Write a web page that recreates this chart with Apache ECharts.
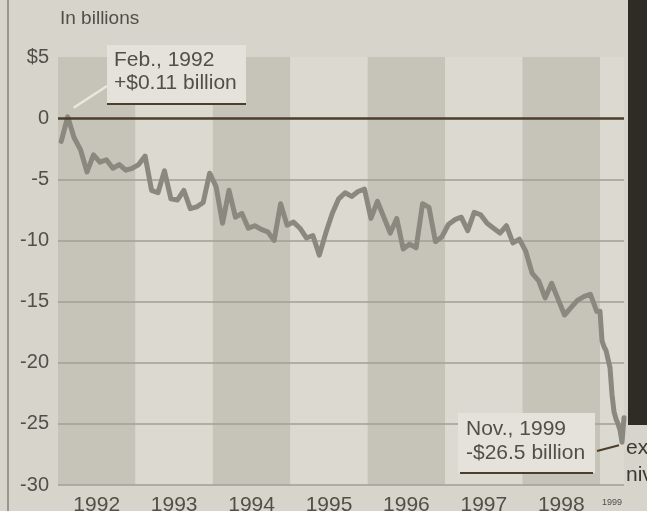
<!DOCTYPE html>
<html><head><meta charset="utf-8">
<script src="https://cdn.jsdelivr.net/npm/echarts@6/dist/echarts.min.js"></script>
<style>html,body{margin:0;padding:0;background:#d7d4cb;overflow:hidden}#c{width:647px;height:511px}</style>
</head><body><div id="c"></div><script>
// ---- data (US trade balance, billions of dollars, monthly) ----
const years = ['1992','1993','1994','1995','1996','1997','1998'];
const lastYear = ['1999'];
const monthNames = ['Jan','Feb','Mar','Apr','May','Jun','Jul','Aug','Sep','Oct','Nov','Dec'];
const yTickLabels = {5:'$5'};
const balance1992 = [-1.9, 0.11, -1.6, -2.6, -4.4, -3.0, -3.6, -3.4, -4.1, -3.8, -4.25, -4.1];
const balance1993 = [-3.8, -3.1, -5.9, -6.1, -4.3, -6.6, -6.7, -5.9, -7.4, -7.25, -6.9, -4.5];
const balance1994 = [-5.6, -8.6, -5.9, -8.1, -7.8, -9.0, -8.8, -9.1, -9.3, -10.0, -7.0, -8.75];
const balance1995 = [-8.5, -9.0, -9.8, -9.6, -11.2, -9.4, -7.8, -6.6, -6.1, -6.4, -6.0, -5.8];
const balance1996 = [-8.2, -6.8, -8.1, -9.4, -8.2, -10.7, -10.3, -10.6, -7.0, -7.3, -10.1, -9.7];
const balance1997 = [-8.7, -8.3, -8.1, -9.2, -7.7, -7.9, -8.6, -9.0, -9.4, -8.8, -10.2, -9.9];
const balance1998 = [-10.9, -12.7, -13.3, -14.7, -13.5, -14.8, -16.1, -15.5, -14.9, -14.6, -14.4, -15.8];
const balance1999 = [-18.2, -18.7, -19.0, -18.9, -20.4, -22.6, -24.0, -24.6, -25.0, -25.5, -26.5, -24.5];
const noteHigh = {cat:'Feb 1992', value:0.11, lines:['Feb., 1992','+$0.11 billion']};
const noteLow = {cat:'Nov 1999', value:-26.5, lines:['Nov., 1999','-$26.5 billion']};

// ---- build ----
const months1 = years.flatMap(y => monthNames.map(m => m + ' ' + y));
const values1 = [].concat(balance1992, balance1993, balance1994, balance1995, balance1996, balance1997, balance1998);
const months2 = ['Dec 1998'].concat(monthNames.map(m => m + ' ' + lastYear[0]));
const values2 = [balance1998[11]].concat(balance1999);

const FONT = '"Liberation Sans", Arial, Helvetica, sans-serif';
const TXT = '#524f48';
const GRIDC = '#a29f96';
const ZEROC = '#4d3d2b';
const SHADE = '#c6c3b9';
const LIGHT = '#dcd9d0';
const LINEC = '#8b8880';
const splitColors = [GRIDC,GRIDC,GRIDC,GRIDC,GRIDC,GRIDC,'rgba(0,0,0,0)','rgba(0,0,0,0)'];

const chart = echarts.init(document.getElementById('c'), null, {renderer:'canvas'});
const zeroMark = {silent:true, symbol:'none', label:{show:false},
  lineStyle:{color:ZEROC, width:2.5, type:'solid'}, data:[{yAxis:0}]};

chart.setOption({
  animation:false,
  backgroundColor:'#d7d4cb',
  textStyle:{fontFamily:FONT},
  grid:[
    {left:58, top:57, width:542, height:428, containLabel:false, outerBoundsMode:'none'},
    {left:600, top:57, width:24, height:428, containLabel:false, outerBoundsMode:'none',
      show:true, backgroundColor:LIGHT, borderWidth:0}
  ],
  xAxis:[
    {type:'category', gridIndex:0, data:months1, boundaryGap:true, show:false},
    {type:'category', gridIndex:0, data:years, boundaryGap:true, position:'bottom', z:0,
      axisLine:{show:false}, axisTick:{show:false},
      axisLabel:{color:TXT, fontSize:21, fontFamily:FONT, margin:10, interval:0},
      splitArea:{show:true, interval:0, areaStyle:{color:[SHADE, LIGHT]}}, splitLine:{show:false}},
    {type:'category', gridIndex:1, data:months2, boundaryGap:false, show:false},
    {type:'category', gridIndex:1, data:lastYear, boundaryGap:true, position:'bottom',
      axisLine:{show:false}, axisTick:{show:false},
      axisLabel:{color:TXT, fontSize:9, fontFamily:FONT, margin:13, interval:0}}
  ],
  yAxis:[
    {type:'value', gridIndex:0, min:-30, max:5, interval:5, z:1,
      axisLine:{show:false}, axisTick:{show:false},
      axisLabel:{color:TXT, fontSize:20, fontFamily:FONT, margin:9,
        formatter:v => yTickLabels[v] || String(v)},
      splitLine:{show:true, lineStyle:{color:splitColors, width:1.5}}},
    {type:'value', gridIndex:1, min:-30, max:5, interval:5, z:1,
      axisLine:{show:false}, axisTick:{show:false}, axisLabel:{show:false},
      splitLine:{show:true, lineStyle:{color:splitColors, width:1.5}}}
  ],
  series:[
    {type:'line', xAxisIndex:0, yAxisIndex:0, data:values1, symbol:'none',
      lineStyle:{color:LINEC, width:5, join:'round', cap:'round'}, z:3, markLine:zeroMark},
    {type:'line', xAxisIndex:2, yAxisIndex:1, data:values2, symbol:'none',
      lineStyle:{color:LINEC, width:5, join:'round', cap:'round'}, z:3, markLine:zeroMark}
  ]
});

const pHigh = chart.convertToPixel({xAxisIndex:0, yAxisIndex:0}, [noteHigh.cat, noteHigh.value]);
const pLow = chart.convertToPixel({xAxisIndex:2, yAxisIndex:1}, [noteLow.cat, noteLow.value]);
const noteFont = '21px ' + FONT;

chart.setOption({
  graphic:[
    {type:'line', shape:{x1:8, y1:0, x2:8, y2:511}, style:{stroke:'#85827a', lineWidth:1.5}, z:1},
    {type:'text', left:60, top:9, style:{text:'In billions', font:'19px ' + FONT, fill:TXT}},
    // photo at the right edge of the page
    {type:'rect', shape:{x:628, y:0, width:19, height:425}, style:{fill:'#2f2b25'}, z:1},
    {type:'text', left:626, top:438, style:{text:'exa', font:'21px ' + FONT, fill:'#3b3832'}},
    {type:'text', left:626, top:465, style:{text:'niv', font:'21px ' + FONT, fill:'#3b3832'}},
    // high note
    {type:'line', shape:{x1:pHigh[0] + 6, y1:pHigh[1] - 9, x2:107, y2:86},
      style:{stroke:'#e9e7e0', lineWidth:2.5}, z:20},
    {type:'rect', shape:{x:107, y:45, width:139, height:59}, style:{fill:'#e4e2da'}, z:20},
    {type:'text', x:114, y:49, style:{text:noteHigh.lines.join('\n'), font:noteFont, fill:TXT, lineHeight:23}, z:21},
    {type:'line', shape:{x1:107, y1:104, x2:246, y2:104}, style:{stroke:ZEROC, lineWidth:2}, z:21},
    // low note
    {type:'rect', shape:{x:458, y:413, width:137, height:60}, style:{fill:'#e4e2da'}, z:20},
    {type:'text', x:466, y:417, style:{text:noteLow.lines.join('\n'), font:noteFont, fill:TXT, lineHeight:24}, z:21},
    {type:'line', shape:{x1:460, y1:473, x2:593, y2:473}, style:{stroke:ZEROC, lineWidth:2}, z:21},
    {type:'line', shape:{x1:597, y1:451, x2:pLow[0] - 3, y2:pLow[1] + 3}, style:{stroke:ZEROC, lineWidth:2}, z:21}
  ]
});
</script></body></html>
